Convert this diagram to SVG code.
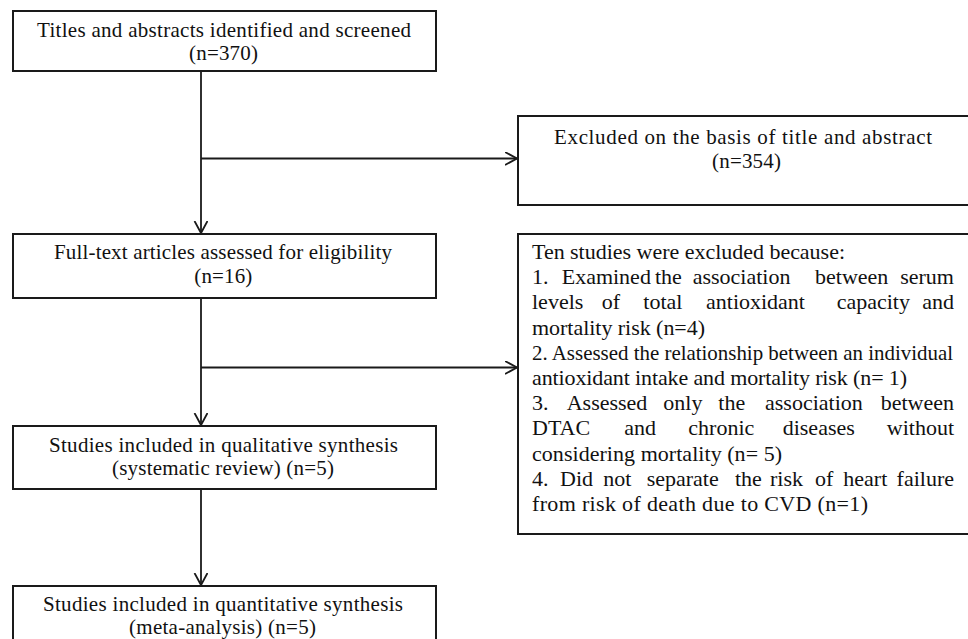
<svg xmlns="http://www.w3.org/2000/svg" width="968" height="639" viewBox="0 0 968 639">
<style>
.box{fill:#fff;stroke:#1a1a1a;stroke-width:2}
.t{font-family:"Liberation Serif","Times New Roman",serif;font-size:22px;fill:#111}
.s{font-size:21px}
.c{text-anchor:middle}
.conn{fill:none;stroke:#1a1a1a;stroke-width:1.8}
</style>
<defs>
<marker id="arr" markerUnits="userSpaceOnUse" markerWidth="16" markerHeight="16" refX="12" refY="7" orient="auto">
<path d="M0,0.5 L12,7 L0,13.5" fill="none" stroke="#1a1a1a" stroke-width="1.8"/>
</marker>
</defs>
<rect width="968" height="639" fill="#fff"/>
<g id="connectors">
<path class="conn" d="M201,71 V233" marker-end="url(#arr)"/>
<path class="conn" d="M201,158.5 H517" marker-end="url(#arr)"/>
<path class="conn" d="M201,298 V425" marker-end="url(#arr)"/>
<path class="conn" d="M201,367.5 H517" marker-end="url(#arr)"/>
<path class="conn" d="M201,489 V585" marker-end="url(#arr)"/>
</g>
<g id="n1">
<rect class="box" x="13" y="11" width="423" height="60"/>
<text class="t s c" x="224" y="36.5" textLength="374" lengthAdjust="spacing">Titles and abstracts identified and screened</text>
<text class="t s c" x="223.5" y="59.5" textLength="69" lengthAdjust="spacing">(n=370)</text>
</g>
<g id="n2">
<rect class="box" x="13" y="234" width="423" height="64"/>
<text class="t s c" x="223" y="259" textLength="338" lengthAdjust="spacing">Full-text articles assessed for eligibility</text>
<text class="t s c" x="223.3" y="283" textLength="58" lengthAdjust="spacing">(n=16)</text>
</g>
<g id="n3">
<rect class="box" x="13" y="426" width="423" height="63"/>
<text class="t s c" x="223.5" y="451.5" textLength="349" lengthAdjust="spacing">Studies included in qualitative synthesis</text>
<text class="t s c" x="223" y="475" textLength="222" lengthAdjust="spacing">(systematic review) (n=5)</text>
</g>
<g id="n4">
<rect class="box" x="13" y="586" width="423" height="70"/>
<text class="t s c" x="223" y="611" textLength="360" lengthAdjust="spacing">Studies included in quantitative synthesis</text>
<text class="t s c" x="222.5" y="634" textLength="187" lengthAdjust="spacing">(meta-analysis) (n=5)</text>
</g>
<g id="n5">
<rect class="box" x="518" y="116" width="452" height="89"/>
<text class="t s c" x="743" y="144" textLength="378" lengthAdjust="spacing">Excluded on the basis of title and abstract</text>
<text class="t s c" x="746.5" y="168" textLength="69" lengthAdjust="spacing">(n=354)</text>
</g>
<g id="n6">
<rect class="box" x="518" y="234" width="452" height="300"/>
<text class="t" x="532" y="259" textLength="313" lengthAdjust="spacing">Ten studies were excluded because:</text>
<text class="t" y="284.2"><tspan x="532">1.</tspan><tspan x="561.7">Examined</tspan><tspan x="655">the</tspan><tspan x="692.7">association</tspan><tspan x="815">between</tspan><tspan x="900.2">serum</tspan></text>
<text class="t" y="309.4"><tspan x="532">levels</tspan><tspan x="601.7">of</tspan><tspan x="643.3">total</tspan><tspan x="706">antioxidant</tspan><tspan x="836.7">capacity</tspan><tspan x="922.2">and</tspan></text>
<text class="t" x="532" y="334.6" textLength="173" lengthAdjust="spacing">mortality risk (n=4)</text>
<text class="t s" x="532" y="359.8" textLength="421" lengthAdjust="spacingAndGlyphs">2. Assessed the relationship between an individual</text>
<text class="t" x="532" y="385" textLength="375" lengthAdjust="spacing">antioxidant intake and mortality risk (n= 1)</text>
<text class="t" y="410.2"><tspan x="532">3.</tspan><tspan x="566.7">Assessed</tspan><tspan x="663.3">only</tspan><tspan x="718.3">the</tspan><tspan x="765">association</tspan><tspan x="880.7">between</tspan></text>
<text class="t" y="435.4"><tspan x="532">DTAC</tspan><tspan x="624.3">and</tspan><tspan x="688.3">chronic</tspan><tspan x="782.7">diseases</tspan><tspan x="886.8">without</tspan></text>
<text class="t" x="532" y="460.6" textLength="250" lengthAdjust="spacing">considering mortality (n= 5)</text>
<text class="t" y="485.8"><tspan x="532">4.</tspan><tspan x="560">Did</tspan><tspan x="603.3">not</tspan><tspan x="646.7">separate</tspan><tspan x="735">the</tspan><tspan x="770">risk</tspan><tspan x="815">of</tspan><tspan x="843.3">heart</tspan><tspan x="896.6">failure</tspan></text>
<text class="t" x="532" y="511" textLength="336" lengthAdjust="spacing">from risk of death due to CVD (n=1)</text>
</g>
</svg>
